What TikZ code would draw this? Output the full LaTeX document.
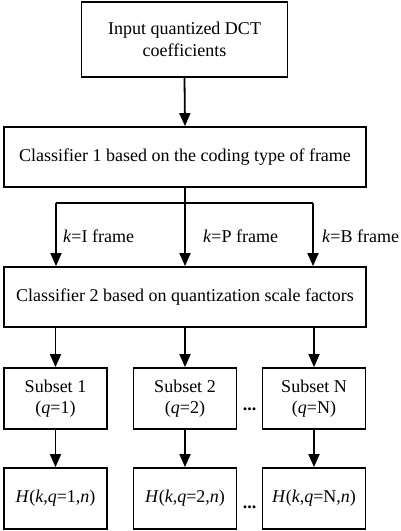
\documentclass[tikz,border=0pt]{standalone}
\usepackage{fontspec}
\setmainfont{Liberation Serif}
\usetikzlibrary{arrows.meta}
\begin{document}
\begin{tikzpicture}[x=1pt,y=-1pt,
  every node/.style={font=\fontsize{18}{21.5}\selectfont},
  box/.style={draw,line width=1.8pt,rectangle,align=center,inner sep=0pt},
  wide/.style={box,minimum width=362pt,minimum height=60pt},
  small/.style={box,minimum width=103pt,minimum height=61pt},
  conn/.style={line width=1.8pt},
  arr/.style={conn,-{Triangle[length=13pt,width=11pt]}},
  lbl/.style={anchor=west,inner sep=0pt}]
\useasboundingbox (0,0) rectangle (401,531);
% top input box
\node[box,minimum width=206pt,minimum height=75pt] (inp) at (184.5,39.5)
  {Input quantized DCT\\coefficients};
% two classifier stages
\node[wide] (c1) at (185,157) {Classifier 1 based on the coding type of frame};
\node[wide] (c2) at (185,297) {Classifier 2 based on quantization scale factors};
% subset boxes
\node[small] (s1) at (55.5,398.5) {Subset 1\\(\textit{q}=1)};
\node[small] (s2) at (185,398.5) {Subset 2\\(\textit{q}=2)};
\node[small] (s3) at (314,398.5) {Subset N\\(\textit{q}=N)};
% histogram boxes
\node[small] (h1) at (55.5,498.5) {\textit{H}(\textit{k},\textit{q}=1,\textit{n})};
\node[small] (h2) at (185,498.5) {\textit{H}(\textit{k},\textit{q}=2,\textit{n})};
\node[small] (h3) at (314,498.5) {\textit{H}(\textit{k},\textit{q}=N,\textit{n})};
% input to classifier 1
\draw[arr] (inp.south) -- (c1.north);
% branching by frame type
\coordinate (bl) at (56,203);
\coordinate (bm) at (185,203);
\coordinate (br) at (313,203);
\draw[conn] (c1.south) -- (bm);
\draw[conn] (bl) -- (br);
\draw[arr] (bl) -- (bl |- c2.north);
\draw[arr] (bm) -- (c2.north);
\draw[arr] (br) -- (br |- c2.north);
\node[lbl] (kI) at (63,236) {\textit{k}=I frame};
\node[lbl] (kP) at (203,236) {\textit{k}=P frame};
\node[lbl] (kB) at (322,236) {\textit{k}=B frame};
% classifier 2 to subsets, subsets to histograms
\foreach \s/\h in {s1/h1,s2/h2,s3/h3} {
  \draw[arr] (c2.south -| \s.north) -- (\s.north);
  \draw[arr] (\s.south) -- (\h.north);
}
\node (d1) at (249.5,409) {\textbf{...}};
\node (d2) at (249.5,507) {\textbf{...}};
\end{tikzpicture}
\end{document}
